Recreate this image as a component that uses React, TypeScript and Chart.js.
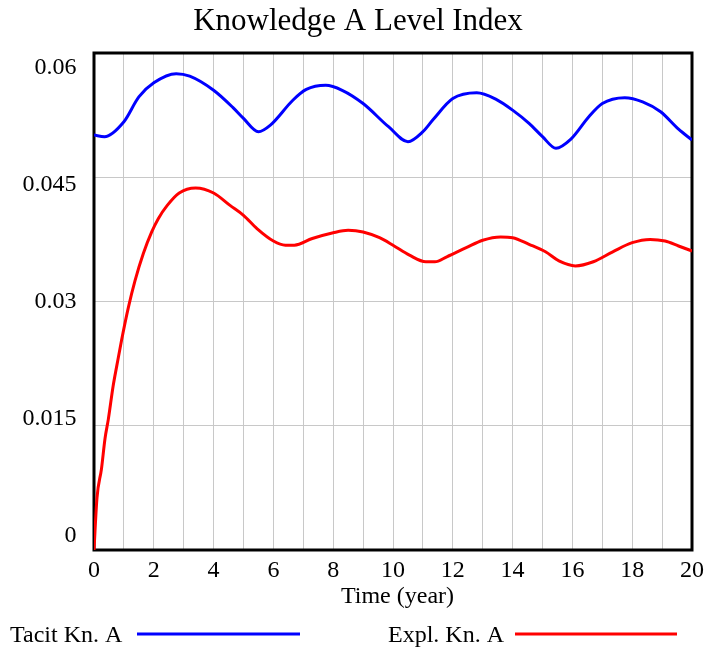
import React, { useEffect, useRef } from "react";
import { Chart, registerables } from "chart.js";

Chart.register(...registerables);

const TITLE = "Knowledge A Level Index";
const X_TITLE = "Time (year)";
const SERIES_NAMES = ["Tacit Kn. A", "Expl. Kn. A"];
const SERIES_COLORS = ["#0000ff", "#ff0000"];

const X_TICKS = [0, 2, 4, 6, 8, 10, 12, 14, 16, 18, 20];
const Y_TICKS = [0, 0.015, 0.03, 0.045, 0.06];
const Y_TICK_LABELS = ["0", "0.015", "0.03", "0.045", "0.06"];

const tacitTime = [
  0, 0.35, 1.0, 1.5, 2.0, 2.75, 3.2, 4.0, 4.65, 5.0, 5.5, 5.9, 6.65, 7.1, 7.75, 8.3, 9.0, 9.85,
  10.5, 11.0, 11.35, 12.0, 12.8, 13.45, 14.0, 14.55, 15.0, 15.45, 15.95, 16.55, 17.0, 17.75,
  18.35, 18.95, 19.55, 20.0,
];
const tacitValues = [
  0.0501, 0.0499, 0.0517, 0.0547, 0.0564, 0.0575, 0.0572, 0.0555, 0.0534, 0.0521, 0.0505,
  0.0513, 0.0543, 0.0556, 0.0561, 0.0555, 0.0539, 0.0511, 0.0493, 0.0505, 0.052, 0.0545,
  0.0552, 0.0544, 0.0531, 0.0515, 0.0499, 0.0485, 0.0496, 0.0523, 0.0539, 0.0546, 0.0541,
  0.0529, 0.0508, 0.0495,
];

const explTime = [
  0, 0.1, 0.25, 0.37, 0.48, 0.64, 0.76, 0.92, 1.15, 1.37, 1.65, 1.93, 2.15, 2.45, 2.85, 3.4,
  4.0, 4.55, 5.0, 5.45, 6.0, 6.4, 6.7, 7.3, 8.0, 8.5, 9.0, 9.55, 10.0, 10.55, 11.1, 11.4,
  11.8, 12.45, 13.0, 13.6, 14.0, 14.55, 15.1, 15.55, 16.1, 16.7, 17.35, 18.0, 18.6, 19.1,
  19.55, 20.0,
];
const explValues = [
  0, 0.0063, 0.0098, 0.0135, 0.0158, 0.0198, 0.0222, 0.0253, 0.0293, 0.0325, 0.0358, 0.0384,
  0.04, 0.0416, 0.0431, 0.0437, 0.0431, 0.0416, 0.0404, 0.0388, 0.0373, 0.0368, 0.0368,
  0.0376, 0.0383, 0.0386, 0.0384, 0.0377, 0.0368, 0.0356, 0.0348, 0.0348, 0.0354, 0.0365,
  0.0374, 0.0378, 0.0377, 0.0369, 0.036, 0.0349, 0.0343, 0.0348, 0.036, 0.0371, 0.0375,
  0.0373, 0.0367, 0.0361,
];

const FONT = '"Liberation Serif", "Times New Roman", serif';

const toPoints = (xs: number[], ys: number[]) => xs.map((x, i) => ({ x, y: ys[i] }));

const decorPlugin = {
  id: "decor",
  beforeDatasetsDraw(chart: any) {
    const { ctx, chartArea } = chart;
    ctx.save();
    ctx.strokeStyle = "#000";
    ctx.lineWidth = 3;
    ctx.strokeRect(
      chartArea.left,
      chartArea.top,
      chartArea.right - chartArea.left,
      chartArea.bottom - chartArea.top
    );
    ctx.restore();
  },
  afterDraw(chart: any) {
    const { ctx, chartArea, scales } = chart;
    const xs = scales.x;
    const ys = scales.y;
    ctx.save();
    ctx.fillStyle = "#000";

    // title
    ctx.font = `31px ${FONT}`;
    ctx.textAlign = "center";
    ctx.textBaseline = "alphabetic";
    ctx.fillText(TITLE, 358, 30);

    // y tick labels (spread slightly inward, Vensim style)
    ctx.font = `24px ${FONT}`;
    ctx.textAlign = "right";
    ctx.textBaseline = "middle";
    const mid = (chartArea.top + chartArea.bottom) / 2;
    const k = 0.9415;
    Y_TICKS.forEach((v, i) => {
      const p = ys.getPixelForValue(v);
      ctx.fillText(Y_TICK_LABELS[i], 76.5, mid + (p - mid) * k);
    });

    // x tick labels
    ctx.textAlign = "center";
    ctx.textBaseline = "alphabetic";
    X_TICKS.forEach((v) => {
      ctx.fillText(String(v), xs.getPixelForValue(v), 577);
    });

    // x title
    ctx.font = `24px ${FONT}`;
    ctx.fillText(X_TITLE, 397.5, 603);

    // legend
    ctx.font = `24px ${FONT}`;
    ctx.textAlign = "left";
    const legend = [
      { x: 10, l1: 137, l2: 300 },
      { x: 388, l1: 515, l2: 677 },
    ];
    legend.forEach((lg, i) => {
      ctx.fillStyle = "#000";
      ctx.fillText(SERIES_NAMES[i], lg.x, 641.5);
      ctx.strokeStyle = SERIES_COLORS[i];
      ctx.lineWidth = 3;
      ctx.beginPath();
      ctx.moveTo(lg.l1, 634);
      ctx.lineTo(lg.l2, 634);
      ctx.stroke();
    });
    ctx.restore();
  },
};

export default function App() {
  const ref = useRef<HTMLCanvasElement | null>(null);
  useEffect(() => {
    if (!ref.current) return;
    const chart = new Chart(ref.current, {
      type: "line",
      data: {
        datasets: [
          {
            label: SERIES_NAMES[0],
            data: toPoints(tacitTime, tacitValues),
            borderColor: SERIES_COLORS[0],
            borderWidth: 3,
            pointRadius: 0,
            cubicInterpolationMode: "monotone",
            fill: false,
          },
          {
            label: SERIES_NAMES[1],
            data: toPoints(explTime, explValues),
            borderColor: SERIES_COLORS[1],
            borderWidth: 3,
            pointRadius: 0,
            cubicInterpolationMode: "monotone",
            fill: false,
          },
        ],
      },
      options: {
        responsive: false,
        animation: false,
        layout: { padding: { left: 94, right: 14, top: 53, bottom: 101 } },
        plugins: {
          legend: { display: false },
          title: { display: false },
          tooltip: { enabled: false },
        },
        scales: {
          x: {
            type: "linear",
            min: 0,
            max: 20,
            ticks: { display: false, stepSize: 1 },
            grid: { color: "#c8c8c8", lineWidth: 1, drawTicks: false },
            border: { display: false },
          },
          y: {
            type: "linear",
            min: 0,
            max: 0.06,
            ticks: { display: false, stepSize: 0.015 },
            grid: { color: "#c8c8c8", lineWidth: 1, drawTicks: false },
            border: { display: false },
          },
        },
      },
      plugins: [decorPlugin],
    });
    return () => chart.destroy();
  }, []);
  return (
    <div style={{ position: "fixed", left: 0, top: 0, width: 706, height: 651, background: "#fff" }}>
      <canvas ref={ref} width={706} height={651} style={{ width: 706, height: 651 }} />
    </div>
  );
}
